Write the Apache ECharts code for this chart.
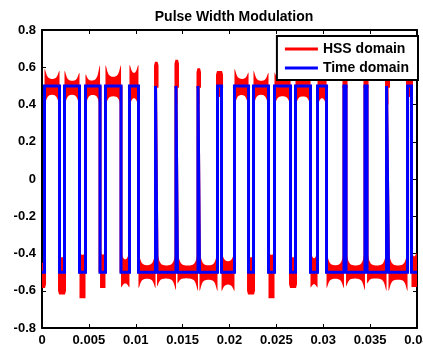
<!DOCTYPE html>
<html>
<head>
<meta charset="utf-8">
<script src="https://cdn.jsdelivr.net/npm/echarts@6/dist/echarts.min.js"></script>
<style>
html,body{margin:0;padding:0;background:#fff;}
#chart{width:423px;height:347px;}
</style>
</head>
<body>
<div id="chart"></div>
<script>
// ---- data ----
const titleText = 'Pulse Width Modulation';
const seriesNames = ['HSS domain', 'Time domain'];
const startLevel = -0.5;         // level of the time-domain PWM at t = 0 (it toggles ±0.5)
// switching instants (s) of the time-domain PWM
const edgeTimes = [
  0.00027, 0.00187, 0.00240, 0.00400, 0.00464, 0.00619, 0.00677, 0.00843,
  0.00933, 0.01029, 0.01211, 0.01227, 0.01429, 0.01445, 0.01664, 0.01680,
  0.01872, 0.01915, 0.02053, 0.02203, 0.02256, 0.02416, 0.02480, 0.02651,
  0.02704, 0.02864, 0.02939, 0.03035, 0.03221, 0.03243, 0.03445, 0.03467,
  0.03675, 0.03696, 0.03899, 0.03941
];
// HSS-domain ringing envelope for each constant segment (magnitudes)
const hssPeakStart = [0.585,0.59,0.62,0.58,0.64,0.56,0.585,0.61,0.58,0.61,0.585,0.63,0.575,0.64,0.56,0.595,0.60,0.58,0.60,
                      0.59,0.62,0.58,0.64,0.57,0.585,0.60,0.58,0.60,0.585,0.62,0.575,0.63,0.56,0.60,0.60,0.58,0.58];
const hssMid       = [0.585,0.53,0.62,0.52,0.64,0.52,0.585,0.54,0.55,0.55,0.53,0.63,0.53,0.64,0.53,0.595,0.535,0.56,0.56,
                      0.53,0.62,0.52,0.64,0.52,0.585,0.54,0.55,0.55,0.53,0.62,0.53,0.63,0.53,0.60,0.535,0.56,0.58];
const hssPeakEnd   = [0.585,0.58,0.62,0.57,0.64,0.61,0.585,0.61,0.58,0.61,0.585,0.63,0.595,0.64,0.60,0.595,0.60,0.58,0.60,
                      0.57,0.62,0.57,0.64,0.60,0.585,0.60,0.58,0.60,0.585,0.62,0.595,0.63,0.60,0.60,0.60,0.58,0.58];
const hssInner     = [0.45,0.46,0.42,0.46,0.42,0.46,0.42,0.45,0.45,0.45,0.47,0.40,0.47,0.40,0.47,0.40,0.47,0.44,0.45,
                      0.46,0.42,0.46,0.42,0.45,0.42,0.45,0.45,0.45,0.47,0.40,0.47,0.40,0.47,0.40,0.47,0.44,0.45];
const xMin = 0, xMax = 0.04, xStep = 0.005;
const yMin = -0.8, yMax = 0.8, yStep = 0.2;

// ---- build series data from the arrays ----
const bounds = [xMin].concat(edgeTimes, [xMax]);
const segData = [];
let lvl = startLevel;
for (let i = 0; i < bounds.length - 1; i++) {
  segData.push([bounds[i], bounds[i+1], Math.sign(lvl), hssPeakStart[i], hssMid[i], hssPeakEnd[i], hssInner[i]]);
  lvl = -lvl;
}
const stepData = [];
lvl = startLevel;
stepData.push([xMin, lvl]);
edgeTimes.forEach(t => { stepData.push([t, lvl]); lvl = -lvl; stepData.push([t, lvl]); });
stepData.push([xMax, lvl]);

function renderSeg(params, api) {
  const t0 = api.value(0), t1 = api.value(1), s = api.value(2);
  const oS = api.value(3), oM = api.value(4), oE = api.value(5), iM = api.value(6);
  const x0 = api.coord([t0, 0])[0], x1 = api.coord([t1, 0])[0];
  const w = x1 - x0;
  const Y = v => api.coord([t0, v])[1];
  let pts;
  if (w < 5) {
    const pk = Math.max(oS, oE);
    pts = [[x0-1.5, Y(s*0.49)], [x0-1.5, Y(s*(pk-0.02))], [x0-0.5, Y(s*pk)], [x1+0.5, Y(s*pk)],
           [x1+1.5, Y(s*(pk-0.02))], [x1+1.5, Y(s*0.49)], [x1, Y(s*0.49)], [x1, Y(s*iM)], [x0, Y(s*iM)], [x0, Y(s*0.49)]];
  } else {
    const outer = [], inner = [];
    const n = Math.max(8, Math.ceil(w * 2));
    for (let j = 0; j <= n; j++) {
      const x = x0 + w * j / n;
      const dl = x - x0, dr = x1 - x;
      const fl = 1 / (1 + Math.pow(dl / 2.0, 2)), fr = 1 / (1 + Math.pow(dr / 2.0, 2));
      const o = oM + (oS - oM) * fl + (oE - oM) * fr;
      const iv = iM - (iM - 0.40) * Math.min(1, fl + fr);
      outer.push([x, Y(s*o)]);
      inner.push([x, Y(s*iv)]);
    }
    pts = outer.concat(inner.reverse());
  }
  return { type: 'polygon', shape: { points: pts }, style: { fill: '#ff0000' } };
}

const font = '"Liberation Sans", Arial, Helvetica, sans-serif';
const chart = echarts.init(document.getElementById('chart'), null, { renderer: 'canvas' });
const axisCommon = {
  axisLine: { show: true, onZero: false, lineStyle: { color: '#000', width: 2 } },
  axisTick: { show: true, inside: true, length: 4, lineStyle: { color: '#000', width: 1 } },
  splitLine: { show: false }
};
chart.setOption({
  animation: false,
  backgroundColor: '#fff',
  title: { text: titleText, left: 229, top: 5, textAlign: 'center',
    textStyle: { fontFamily: font, fontWeight: 'bold', fontSize: 14, color: '#000' } },
  grid: { left: 42, right: 6, top: 30, bottom: 19, containLabel: false, outerBoundsMode: 'none' },
  legend: {
    right: 5, top: 36, orient: 'vertical', selectedMode: false,
    backgroundColor: '#fff', borderColor: '#000', borderWidth: 2, borderRadius: 0,
    padding: [6, 9, 5, 8], itemGap: 5, itemWidth: 33, itemHeight: 3,
    textStyle: { fontFamily: font, fontWeight: 'bold', fontSize: 14, color: '#000' },
    data: [
      { name: seriesNames[0], icon: 'rect', itemStyle: { color: '#ff0000' } },
      { name: seriesNames[1], icon: 'rect', itemStyle: { color: '#0000ff' } }
    ]
  },
  xAxis: [
    Object.assign({}, axisCommon, { type: 'value', position: 'bottom', min: xMin, max: xMax, interval: xStep,
      axisLabel: { show: true, margin: 6, fontFamily: font, fontWeight: 'bold', fontSize: 13, color: '#000',
        hideOverlap: false,
        formatter: v => String(parseFloat(v.toFixed(3))) } }),
    Object.assign({}, axisCommon, { type: 'value', position: 'top', min: xMin, max: xMax, interval: xStep,
      axisLabel: { show: false } })
  ],
  yAxis: [
    Object.assign({}, axisCommon, { type: 'value', position: 'left', min: yMin, max: yMax, interval: yStep,
      axisLabel: { show: true, margin: 6, fontFamily: font, fontWeight: 'bold', fontSize: 13, color: '#000',
        formatter: v => String(parseFloat(v.toFixed(1))) } }),
    Object.assign({}, axisCommon, { type: 'value', position: 'right', min: yMin, max: yMax, interval: yStep,
      axisLabel: { show: false } })
  ],
  series: [
    { name: seriesNames[0], type: 'line', data: stepData, showSymbol: false, symbol: 'none',
      lineStyle: { color: '#ff0000', width: 3 }, itemStyle: { color: '#ff0000' }, z: 2 },
    { name: seriesNames[0], type: 'custom', data: segData, renderItem: renderSeg, clip: true,
      encode: { x: [0, 1], y: [3] }, itemStyle: { color: '#ff0000' }, z: 2 },
    { name: seriesNames[1], type: 'line', data: stepData, showSymbol: false, symbol: 'none',
      lineStyle: { color: '#0000ff', width: 3, join: 'miter' }, itemStyle: { color: '#0000ff' }, z: 3 }
  ]
});
</script>
</body>
</html>
